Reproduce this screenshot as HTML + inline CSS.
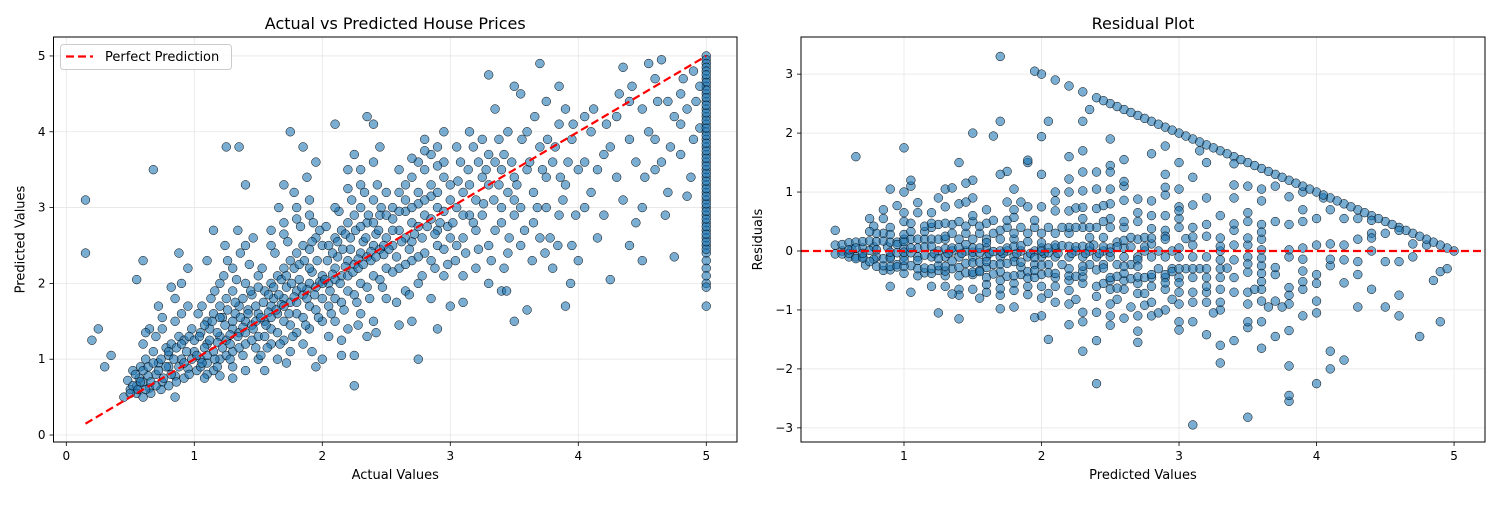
<!DOCTYPE html>
<html><head><meta charset="utf-8"><style>
body{margin:0;background:#fff;width:1500px;height:500px;overflow:hidden}
svg text{font-family:"DejaVu Sans","Liberation Sans",sans-serif;fill:#000}
</style></head><body>
<svg id="fig" width="1500" height="500" viewBox="0 0 1500 500" xmlns="http://www.w3.org/2000/svg"></svg>
<script>
// [actual, predicted] pairs
const actualPredictedPairs = "0.45,0.5 0.5,0.6 0.55,0.55 0.6,0.7 0.65,0.62 0.7,0.8 0.75,0.7 0.8,0.9 0.85,0.78 0.9,1.0 0.95,0.88 1.0,1.1 0.48,0.72 0.52,0.85 0.58,0.9 0.62,1.0 0.68,1.1 0.72,0.95 0.78,1.15 0.82,1.2 0.88,1.3 0.92,1.25 0.98,1.4 0.55,0.65 0.6,0.5 0.66,0.55 0.74,0.6 0.8,0.65 0.86,0.7 0.92,0.75 0.96,0.8 1.02,0.85 0.7,1.3 0.75,1.4 0.85,1.5 0.9,1.6 0.95,1.7 0.8,1.05 0.64,0.78 0.57,0.75 1.05,1.0 1.1,1.2 1.15,1.1 1.2,1.3 1.25,1.25 1.3,1.4 1.35,1.35 1.4,1.5 1.45,1.45 1.5,1.6 1.05,1.35 1.1,1.5 1.15,1.6 1.2,1.7 1.25,1.8 1.3,1.9 1.35,1.7 1.4,2.0 1.45,1.85 1.5,2.1 1.05,0.9 1.1,0.95 1.15,0.85 1.2,1.0 1.25,1.05 1.3,1.1 1.35,1.15 1.4,1.2 1.45,1.25 1.5,1.3 1.1,0.8 1.2,0.78 1.3,0.9 1.4,0.85 1.5,1.0 1.12,1.4 1.22,1.55 1.32,1.6 1.42,1.65 1.18,1.22 1.28,1.32 1.38,1.42 1.48,1.5 1.08,1.15 1.1,2.3 1.3,2.2 1.4,2.5 1.2,2.0 1.15,2.7 1.25,3.8 1.35,3.8 1.4,3.3 1.3,0.75 1.55,1.5 1.6,1.7 1.65,1.6 1.7,1.8 1.75,1.75 1.8,1.9 1.85,1.85 1.9,2.0 1.95,1.95 2.0,2.1 1.55,1.9 1.6,2.0 1.65,2.1 1.7,2.2 1.75,2.3 1.8,2.4 1.85,2.5 1.9,2.45 1.95,2.6 2.0,2.5 1.55,1.3 1.6,1.4 1.65,1.35 1.7,1.5 1.75,1.45 1.8,1.6 1.85,1.55 1.9,1.7 1.95,1.65 2.0,1.8 1.6,1.2 1.7,1.25 1.8,1.35 1.9,1.4 2.0,1.5 1.6,2.7 1.7,2.8 1.8,3.0 1.9,2.9 1.75,4.0 1.7,3.3 1.85,3.8 1.95,3.6 1.65,1.0 1.75,1.1 1.55,0.85 1.85,1.2 1.95,0.9 1.62,1.8 1.72,1.95 1.82,2.05 1.92,2.15 1.58,1.62 1.68,1.72 1.78,1.82 1.88,1.92 1.98,2.02 2.05,2.0 2.1,2.2 2.15,2.1 2.2,2.3 2.25,2.25 2.3,2.4 2.35,2.35 2.4,2.5 2.45,2.45 2.5,2.6 2.05,2.5 2.1,2.6 2.15,2.7 2.2,2.8 2.25,2.9 2.3,3.0 2.35,2.8 2.4,3.1 2.45,2.9 2.5,3.2 2.05,1.7 2.1,1.8 2.15,1.75 2.2,1.9 2.25,1.85 2.3,2.0 2.35,1.95 2.4,2.1 2.45,2.05 2.5,2.2 2.1,1.5 2.2,1.4 2.3,1.6 2.4,1.5 2.5,1.8 2.15,1.05 2.25,1.05 2.25,0.65 2.2,3.5 2.3,3.3 2.35,4.2 2.4,4.1 2.1,4.1 2.25,3.7 2.45,3.8 2.12,2.35 2.22,2.45 2.32,2.55 2.42,2.65 2.08,2.12 2.18,2.22 2.28,2.32 2.38,2.42 2.48,2.38 2.0,1.0 2.35,1.3 2.55,2.5 2.6,2.7 2.65,2.6 2.7,2.8 2.75,2.75 2.8,2.9 2.85,2.85 2.9,3.0 2.95,2.95 3.0,3.1 2.55,3.0 2.6,3.2 2.65,3.3 2.7,3.4 2.75,3.6 2.8,3.5 2.85,3.7 2.9,3.8 2.95,3.6 2.6,2.2 2.7,2.3 2.8,2.4 2.9,2.5 3.0,2.6 2.65,1.9 2.75,2.0 2.85,1.8 2.95,2.1 2.75,1.0 2.7,1.5 2.6,1.45 2.9,1.4 2.8,3.9 2.95,4.0 2.65,2.95 2.75,3.05 2.85,3.15 2.55,2.7 2.7,2.55 2.9,2.7 3.05,3.0 3.1,3.2 3.15,3.3 3.2,3.1 3.25,3.4 3.3,3.3 3.35,3.6 3.4,3.5 3.45,3.2 3.5,3.4 3.05,2.5 3.1,2.6 3.2,2.7 3.3,2.5 3.4,2.8 3.5,2.9 3.1,2.1 3.2,2.2 3.3,2.0 3.4,1.9 3.5,1.5 3.05,3.8 3.15,4.0 3.25,3.9 3.35,4.3 3.3,4.75 3.45,4.0 3.5,4.6 3.1,1.75 3.0,1.7 3.25,2.9 3.35,2.7 3.45,2.4 3.15,2.9 3.4,3.0 3.55,3.0 3.6,3.5 3.65,3.2 3.7,3.8 3.75,3.4 3.8,3.6 3.85,4.1 3.9,3.3 3.95,3.9 4.0,3.5 3.55,2.5 3.6,1.65 3.7,2.6 3.8,2.2 3.9,1.7 4.0,2.3 3.7,4.9 3.75,4.4 3.85,4.6 3.55,4.5 3.65,2.8 3.75,3.0 3.85,2.9 3.95,2.5 3.6,4.0 3.9,4.3 4.05,3.6 4.1,4.0 4.2,3.7 4.3,4.2 4.4,3.9 4.5,4.3 4.6,4.7 4.7,4.4 4.8,4.5 4.9,4.8 4.1,3.2 4.2,2.9 4.3,3.4 4.4,2.5 4.5,3.0 4.6,3.5 4.7,3.2 4.8,3.7 4.9,3.9 4.15,2.6 4.25,2.05 4.5,2.3 4.75,2.35 4.85,3.15 4.35,4.85 4.55,4.9 4.65,4.95 4.05,4.2 4.4,4.4 4.6,3.9 4.8,4.1 4.95,4.05 0.15,3.1 0.15,2.4 0.2,1.25 0.25,1.4 0.35,1.05 0.3,0.9 0.68,3.5 0.55,2.05 0.6,2.3 0.85,0.5 5,5 5,4.95 5,4.9 5,4.85 5,4.8 5,4.7 5,4.6 5,4.5 5,4.4 5,4.3 5,4.2 5,4.1 5,4.0 5,3.9 5,3.8 5,3.7 5,3.6 5,3.5 5,3.4 5,3.3 5,3.2 5,3.1 5,3.0 5,2.9 5,2.8 5,2.7 5,2.6 5,2.5 5,2.4 5,2.2 5,2.0 5,1.7 5,4.75 5,4.65 5,4.55 5,4.45 " +
"0.5,0.55 0.52,0.65 0.54,0.8 0.56,0.6 0.58,0.7 0.6,0.85 0.62,0.6 0.64,0.9 0.66,0.7 0.68,0.95 0.7,0.65 0.72,0.85 0.74,1.0 0.76,0.75 0.78,0.9 0.8,1.1 0.82,0.8 0.84,1.0 0.86,1.15 0.88,0.9 0.9,1.2 0.92,0.95 0.94,1.1 0.96,1.3 0.98,1.0 1.0,1.25 0.6,1.2 0.65,1.4 0.75,1.55 0.85,1.8 0.9,2.0 0.95,2.2 0.88,2.4 0.82,1.95 0.72,1.7 0.62,1.35 " +
"1.02,1.05 1.04,1.3 1.06,0.95 1.08,1.45 1.1,1.05 1.12,1.25 1.14,1.5 1.16,1.0 1.18,1.35 1.2,1.55 1.22,1.15 1.24,1.45 1.26,1.65 1.28,1.2 1.3,1.5 1.32,1.75 1.34,1.3 1.36,1.55 1.38,1.8 1.4,1.35 1.42,1.6 1.44,1.9 1.46,1.4 1.48,1.7 1.5,1.95 1.03,1.6 1.13,1.8 1.23,2.1 1.33,2.05 1.43,2.25 1.08,0.75 1.18,0.9 1.28,1.0 1.38,1.05 1.48,1.15 1.06,1.7 1.16,1.9 1.26,2.3 1.36,2.4 1.46,2.6 1.34,2.7 1.24,2.5 " +
"1.52,1.55 1.54,1.75 1.56,1.45 1.58,1.85 1.6,1.55 1.62,1.95 1.64,1.65 1.66,1.85 1.68,2.05 1.7,1.7 1.72,2.1 1.74,1.6 1.76,2.0 1.78,2.2 1.8,1.75 1.82,2.25 1.84,1.95 1.86,2.3 1.88,1.8 1.9,2.2 1.92,2.55 1.94,1.85 1.96,2.3 1.98,2.7 2.0,2.0 1.53,2.2 1.63,2.4 1.73,2.55 1.83,2.75 1.93,2.8 1.57,1.15 1.67,1.2 1.77,1.3 1.87,1.45 1.97,1.55 1.6,2.5 1.7,2.65 1.8,2.85 1.9,3.1 1.66,3.0 1.78,3.2 1.88,3.4 1.52,1.05 1.72,0.95 1.92,1.1 " +
"2.02,2.05 2.04,2.3 2.06,1.9 2.08,2.4 2.1,2.05 2.12,2.55 2.14,2.0 2.16,2.45 2.18,2.65 2.2,2.1 2.22,2.6 2.24,2.15 2.26,2.7 2.28,2.2 2.3,2.75 2.32,2.25 2.34,2.6 2.36,2.9 2.38,2.3 2.4,2.8 2.42,2.35 2.44,2.7 2.46,3.0 2.48,2.5 2.5,2.9 2.03,2.75 2.13,2.95 2.23,3.1 2.33,3.2 2.43,3.3 2.07,1.6 2.17,1.65 2.27,1.75 2.37,1.8 2.47,1.95 2.1,3.0 2.2,3.25 2.3,3.5 2.4,3.6 2.05,1.3 2.15,1.25 2.28,1.45 2.42,1.35 " +
"2.52,2.45 2.55,2.85 2.58,2.35 2.6,2.95 2.62,2.55 2.65,3.1 2.68,2.45 2.7,3.0 2.72,2.65 2.75,3.2 2.78,2.6 2.8,3.1 2.82,2.75 2.85,3.3 2.88,2.65 2.9,3.2 2.92,2.8 2.95,3.4 2.98,2.75 3.0,3.3 2.55,2.15 2.65,2.25 2.75,2.35 2.85,2.3 2.95,2.45 2.6,3.5 2.7,3.65 2.8,3.75 2.9,3.55 2.58,1.75 2.68,1.85 2.78,2.1 2.88,2.2 2.98,2.25 " +
"3.02,2.8 3.06,3.35 3.1,2.9 3.14,3.5 3.18,2.8 3.22,3.6 3.26,3.05 3.3,3.7 3.34,3.1 3.38,3.3 3.42,3.7 3.46,2.6 3.5,3.1 3.04,2.3 3.12,2.4 3.22,2.45 3.32,2.3 3.42,2.2 3.08,3.6 3.18,3.8 3.28,3.5 3.38,3.9 3.48,3.6 3.44,1.9 " +
"3.52,3.3 3.58,2.7 3.62,3.6 3.68,3.0 3.72,3.5 3.78,2.6 3.82,3.8 3.88,3.1 3.92,3.6 3.98,2.9 3.56,3.9 3.66,4.2 3.76,3.9 3.86,3.4 3.96,4.1 3.64,2.3 3.74,2.4 3.84,2.5 3.94,2.0 " +
"4.05,3.0 4.15,3.5 4.25,3.8 4.35,3.1 4.45,3.6 4.55,4.0 4.65,3.6 4.75,4.2 4.85,4.3 4.95,4.6 4.12,4.3 4.22,4.1 4.32,4.5 4.42,4.6 4.52,3.4 4.62,4.4 4.72,3.8 4.82,4.7 4.92,4.4 4.45,2.8 4.68,2.9 4.88,3.4 " +
"5,1.95 5,2.1 5,2.3 5,2.45 5,2.55 5,2.65 5,2.75 5,2.85 5,2.95 5,3.05 5,3.15 5,3.25 5,3.35 5,3.45 5,3.55 5,3.65 5,3.75 5,3.85 5,3.95 5,4.05 5,4.15 5,4.25 5,4.35";
const actualValues = [];
const predictedValues = [];
actualPredictedPairs.split(" ").forEach(s=>{const p=s.split(",");actualValues.push(+p[0]);predictedValues.push(+p[1]);});
const leftXTicks = [0,1,2,3,4,5];
const leftYTicks = [0,1,2,3,4,5];
const rightXTicks = [1,2,3,4,5];
const rightYTicks = [-3,-2,-1,0,1,2,3];
const perfectLine = [0.15,5];

const NS="http://www.w3.org/2000/svg";
const svg=document.getElementById('fig');
function el(tag,attrs,parent){const e=document.createElementNS(NS,tag);for(const k in attrs)e.setAttribute(k,attrs[k]);(parent||svg).appendChild(e);return e;}
function lin(d0,d1,r0,r1){return v=>r0+(v-d0)*(r1-r0)/(d1-d0);}

function axes(box,xd,yd,xt,yt,title,xl,yl,prefix,ylOff){
  const g=el('g',{});
  
  
  const X=lin(xd[0],xd[1],box.l,box.r),Y=lin(yd[0],yd[1],box.b,box.t);
  xt.forEach(v=>{
    const gl=el('line',{x1:X(v),x2:X(v),y1:box.t,y2:box.b,stroke:'#e6e6e6','stroke-width':0.8},g);
    
    el('line',{x1:X(v),x2:X(v),y1:box.b,y2:box.b+4,stroke:'#000','stroke-width':0.8},g);
    const t=el('text',{x:X(v),y:box.b+18,'text-anchor':'middle','font-size':12},g);t.textContent=v;
    
  });
  yt.forEach(v=>{
    const gl=el('line',{x1:box.l,x2:box.r,y1:Y(v),y2:Y(v),stroke:'#e6e6e6','stroke-width':0.8},g);
    
    el('line',{x1:box.l-4,x2:box.l,y1:Y(v),y2:Y(v),stroke:'#000','stroke-width':0.8},g);
    const t=el('text',{x:box.l-8,y:Y(v)+4,'text-anchor':'end','font-size':12},g);t.textContent=(v<0?'\u2212'+(-v):v);
    
  });
  const tt=el('text',{x:(box.l+box.r)/2,y:box.t-8,'text-anchor':'middle','font-size':16},g);tt.textContent=title;
  
  const xt2=el('text',{x:(box.l+box.r)/2,y:box.b+37,'text-anchor':'middle','font-size':13},g);xt2.textContent=xl;
  
  const yy=(box.t+box.b)/2, yx=box.l-ylOff;
  const yt2=el('text',{x:yx,y:yy,'text-anchor':'middle','font-size':13,transform:`rotate(-90 ${yx} ${yy})`},g);yt2.textContent=yl;
  
  return {X,Y,g};
}
function frame(box){const f=el('rect',{x:box.l,y:box.t,width:box.r-box.l,height:box.b-box.t,fill:'none',stroke:'#000','stroke-width':1});
  }

// Left chart
const L={l:53.5,r:737,t:37,b:442};
const A=axes(L,[-0.1,5.24],[-0.092,5.25],leftXTicks,leftYTicks,'Actual vs Predicted House Prices','Actual Values','Predicted Values','left',29);
actualValues.forEach((a,i)=>{
  const c=el('circle',{cx:A.X(a),cy:A.Y(predictedValues[i]),r:4.4,fill:'rgba(31,119,180,0.6)',stroke:'#000','stroke-width':0.5});
  
  
});
const pl=el('line',{x1:A.X(perfectLine[0]),y1:A.Y(perfectLine[0]),x2:A.X(perfectLine[1]),y2:A.Y(perfectLine[1]),stroke:'#ff0000','stroke-width':2.2,'stroke-dasharray':'8 4'});

frame(L);
const lg=el('g',{});

el('rect',{x:60.5,y:44.5,width:171,height:25,rx:3,fill:'rgba(255,255,255,0.8)',stroke:'#ccc'},lg);
el('line',{x1:66,x2:93,y1:56.5,y2:56.5,stroke:'#ff0000','stroke-width':2.2,'stroke-dasharray':'8 4'},lg);
const lt=el('text',{x:105,y:61,'font-size':13},lg);lt.textContent='Perfect Prediction';


// Right chart
const R={l:801,r:1485,t:37,b:442};
const B=axes(R,[0.251,5.225],[-3.24,3.63],rightXTicks,rightYTicks,'Residual Plot','Predicted Values','Residuals','right',39);
predictedValues.forEach((p,i)=>{
  const c=el('circle',{cx:B.X(p),cy:B.Y(actualValues[i]-p),r:4.4,fill:'rgba(31,119,180,0.6)',stroke:'#000','stroke-width':0.5});
  
  
});
const zl=el('line',{x1:R.l,x2:R.r,y1:B.Y(0),y2:B.Y(0),stroke:'#ff0000','stroke-width':2.2,'stroke-dasharray':'8 4'});

frame(R);
</script>
</body></html>
